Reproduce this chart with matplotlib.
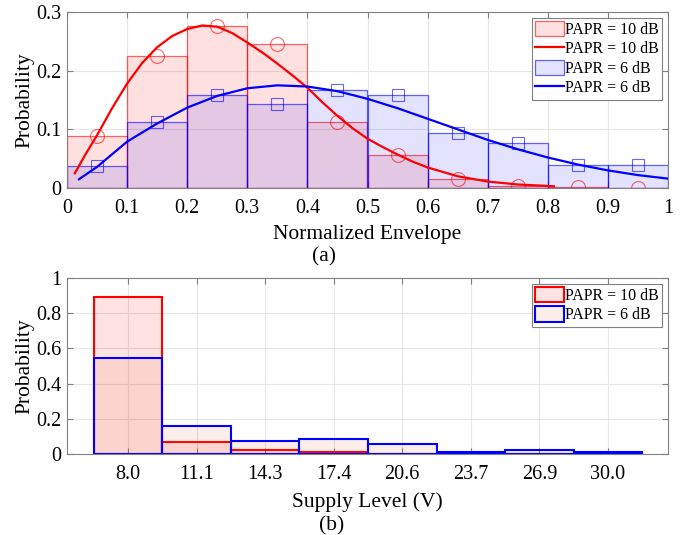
import numpy as np
import matplotlib.pyplot as plt
from matplotlib.patches import Patch
from matplotlib.lines import Line2D

plt.rcParams['font.family'] = ['Liberation Serif', 'DejaVu Serif']
plt.rcParams['mathtext.fontset'] = 'stix'

# ---- (a) histogram of normalized envelope ----
bin_edges = [0.0, 0.1, 0.2, 0.3, 0.4, 0.5, 0.6, 0.7, 0.8, 0.9]
bin_centers = [0.05, 0.15, 0.25, 0.35, 0.45, 0.55, 0.65, 0.75, 0.85, 0.95]
hist_10db = [0.088, 0.225, 0.276, 0.246, 0.112, 0.057, 0.016, 0.003, 0.002, 0.0]
hist_6db = [0.038, 0.112, 0.158, 0.144, 0.167, 0.158, 0.093, 0.077, 0.039, 0.039]

# fitted pdf curves
fit10_x = [0.013, 0.03, 0.05, 0.075, 0.1, 0.125, 0.15, 0.175, 0.2, 0.225,
           0.25, 0.275, 0.3, 0.325, 0.35, 0.375, 0.4, 0.425, 0.45, 0.475,
           0.5, 0.525, 0.55, 0.575, 0.6, 0.65, 0.7, 0.75, 0.81]
fit10_y = [0.025, 0.056, 0.090, 0.136, 0.178, 0.213, 0.240, 0.259, 0.271, 0.277,
           0.275, 0.264, 0.248, 0.231, 0.212, 0.192, 0.171, 0.146, 0.123, 0.102,
           0.084, 0.070, 0.057, 0.045, 0.035, 0.020, 0.011, 0.006, 0.003]
fit6_x = [0.02, 0.05, 0.1, 0.15, 0.2, 0.25, 0.3, 0.35, 0.4, 0.45, 0.5,
          0.55, 0.6, 0.65, 0.7, 0.75, 0.8, 0.85, 0.9, 0.95, 1.0]
fit6_y = [0.015, 0.036, 0.079, 0.110, 0.137, 0.157, 0.170, 0.175, 0.173, 0.165, 0.152,
          0.136, 0.118, 0.100, 0.082, 0.066, 0.052, 0.040, 0.030, 0.022, 0.016]

# ---- (b) histogram of supply levels ----
supply_labels = ["8.0", "11.1", "14.3", "17.4", "20.6", "23.7", "26.9", "30.0"]
supply_10db = [0.894, 0.066, 0.020, 0.010, 0.002, 0.002, 0.001, 0.001]
supply_6db = [0.544, 0.161, 0.076, 0.088, 0.059, 0.014, 0.025, 0.014]

SPINE = '0.5'
GRID = '0.9'

fig = plt.figure(figsize=(6.83, 5.35), dpi=100)
ax1 = fig.add_axes([67/683, 1-188/535, 601/683, 176/535])
ax2 = fig.add_axes([67/683, 1-454/535, 601/683, 176/535])


def style_axes(ax):
    for s in ax.spines.values():
        s.set_color(SPINE)
        s.set_linewidth(0.8)
    ax.tick_params(direction='in', top=True, right=True, length=4,
                   color=SPINE, labelsize=14.5)
    ax.tick_params(axis='x', pad=8)
    ax.tick_params(axis='y', pad=4)
    ax.grid(True, color=GRID, lw=0.8)
    ax.set_axisbelow(True)


# panel (a)
ax1.bar(bin_edges, hist_10db, width=0.1, align='edge',
        facecolor=(1, 0, 0, 0.12), edgecolor=(1, 0, 0, 0.6), lw=0.9)
ax1.bar(bin_edges, hist_6db, width=0.1, align='edge',
        facecolor=(0, 0, 1, 0.11), edgecolor=(0, 0, 1, 0.6), lw=0.9)
ax1.plot(fit10_x, fit10_y, color='red', lw=1.6)
ax1.plot(fit6_x, fit6_y, color='blue', lw=1.6)
ax1.plot(bin_centers, hist_10db, 'o', ls='none', ms=10, mfc='none',
         mec=(1, 0, 0, 0.6), mew=0.8)
ax1.plot(bin_centers, hist_6db, 's', ls='none', ms=8.5, mfc='none',
         mec=(0, 0, 1, 0.6), mew=0.8)
ax1.set_xlim(0, 1)
ax1.set_ylim(0, 0.3)
ax1.set_xticks(np.arange(0, 1.01, 0.1))
ax1.set_xticklabels(["0", "0.1", "0.2", "0.3", "0.4", "0.5", "0.6", "0.7",
                     "0.8", "0.9", "1"])
ax1.set_yticks([0, 0.1, 0.2, 0.3])
ax1.set_yticklabels(["0", "0.1", "0.2", "0.3"])
style_axes(ax1)
ax1.set_ylabel("Probability", fontsize=15.5, labelpad=1)
ax1.set_xlabel("Normalized Envelope", fontsize=15.5, labelpad=5)

handles1 = [
    Patch(facecolor=(1, 0, 0, 0.12), edgecolor=(1, 0, 0, 0.6), lw=0.9),
    Line2D([], [], color='red', lw=1.6),
    Patch(facecolor=(0, 0, 1, 0.11), edgecolor=(0, 0, 1, 0.6), lw=0.9),
    Line2D([], [], color='blue', lw=1.6),
]
labels1 = ["PAPR = 10 dB", "PAPR = 10 dB", "PAPR = 6 dB", "PAPR = 6 dB"]
leg1 = ax1.legend(handles1, labels1, loc='upper right', fontsize=11.5,
                  fancybox=False, edgecolor=SPINE, framealpha=1,
                  handlelength=1.8, handleheight=1.1, handletextpad=0.1,
                  borderpad=0.2, labelspacing=0.15, borderaxespad=0.35)
leg1.get_frame().set_linewidth(0.8)

# panel (b)
idx = np.arange(len(supply_labels))
ax2.bar(idx, supply_10db, width=1.0,
        facecolor=(1, 0, 0, 0.11), edgecolor='red', lw=1.5)
ax2.bar(idx, supply_6db, width=1.0,
        facecolor=(0.85, 0.33, 0.1, 0.1), edgecolor='blue', lw=1.5)
ax2.set_xlim(-0.89, 7.875)
ax2.set_ylim(0, 1)
ax2.set_xticks(idx)
ax2.set_xticklabels(supply_labels)
ax2.set_yticks([0, 0.2, 0.4, 0.6, 0.8, 1.0])
ax2.set_yticklabels(["0", "0.2", "0.4", "0.6", "0.8", "1"])
style_axes(ax2)
ax2.set_ylabel("Probability", fontsize=15.5, labelpad=1)
ax2.set_xlabel("Supply Level (V)", fontsize=15.5, labelpad=6)

handles2 = [
    Patch(facecolor=(1, 0, 0, 0.11), edgecolor='red', lw=1.5),
    Patch(facecolor=(0.85, 0.33, 0.1, 0.1), edgecolor='blue', lw=1.5),
]
leg2 = ax2.legend(handles2, ["PAPR = 10 dB", "PAPR = 6 dB"], loc='upper right',
                  fontsize=11.5, fancybox=False, edgecolor=SPINE, framealpha=1,
                  handlelength=1.8, handleheight=1.1, handletextpad=0.1,
                  borderpad=0.2, labelspacing=0.15, borderaxespad=0.35)
leg2.get_frame().set_linewidth(0.8)

fig.text(324/683, 1-256.7/535, "(a)", ha='center', va='center', fontsize=15.5)
fig.text(331.7/683, 1-525.7/535, "(b)", ha='center', va='center', fontsize=15.5)

fig.savefig("out.png", dpi=100)
